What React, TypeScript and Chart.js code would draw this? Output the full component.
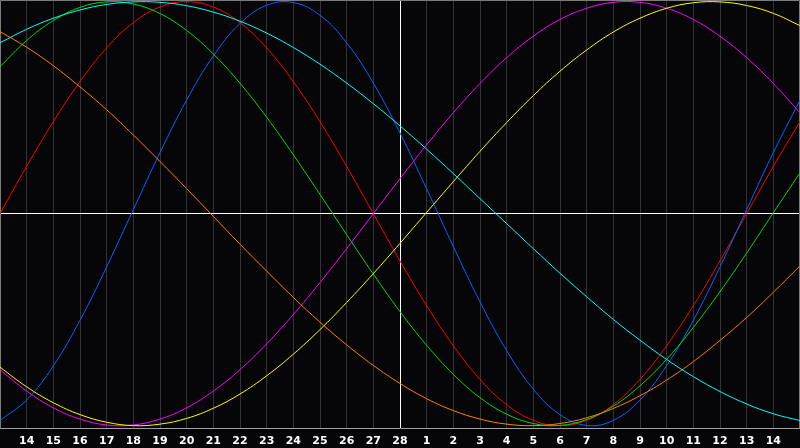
import { useEffect, useRef } from 'react';
import { Chart, registerables } from 'chart.js';

Chart.register(...registerables);

// Day labels from one day before the first tick to one day after the last (edges unlabeled)
const DAY_LABELS = [
  '13', '14', '15', '16', '17', '18', '19', '20', '21', '22', '23', '24', '25', '26', '27', '28',
  '1', '2', '3', '4', '5', '6', '7', '8', '9', '10', '11', '12', '13', '14', '15',
];

const PHYSICAL = [-0.975, -0.879, -0.718, -0.503, -0.251, 0.019, 0.288, 0.536, 0.744, 0.897, 0.983, 0.996, 0.936, 0.806, 0.616, 0.381, 0.117, -0.155, -0.416, -0.646, -0.828, -0.948, -0.999, -0.975, -0.879, -0.717, -0.503, -0.251, 0.019, 0.288, 0.536];
const EMOTIONAL = [0, 0.223, 0.434, 0.623, 0.782, 0.901, 0.975, 1, 0.975, 0.901, 0.782, 0.623, 0.434, 0.223, 0, -0.223, -0.434, -0.623, -0.782, -0.901, -0.975, -1, -0.975, -0.901, -0.782, -0.623, -0.434, -0.223, 0, 0.223, 0.434];
const INTELLECTUAL = [0.693, 0.817, 0.911, 0.973, 0.999, 0.989, 0.944, 0.864, 0.753, 0.615, 0.455, 0.278, 0.091, -0.099, -0.285, -0.462, -0.621, -0.758, -0.868, -0.946, -0.99, -0.999, -0.971, -0.908, -0.812, -0.687, -0.537, -0.368, -0.186, 0.004, 0.193];
const INTUITIVE = [-0.736, -0.837, -0.916, -0.969, -0.997, -0.997, -0.969, -0.916, -0.837, -0.736, -0.614, -0.476, -0.325, -0.165, 0, 0.165, 0.325, 0.476, 0.614, 0.736, 0.837, 0.916, 0.969, 0.997, 0.997, 0.969, 0.916, 0.837, 0.736, 0.614, 0.476];
const AESTHETIC = [-0.724, -0.817, -0.892, -0.948, -0.984, -1.0, -0.993, -0.966, -0.918, -0.851, -0.765, -0.663, -0.547, -0.419, -0.283, -0.14, 0.006, 0.151, 0.294, 0.43, 0.557, 0.672, 0.772, 0.857, 0.922, 0.969, 0.995, 0.999, 0.982, 0.945, 0.887];
const AWARENESS = [0.859, 0.785, 0.698, 0.598, 0.49, 0.371, 0.246, 0.118, -0.013, -0.144, -0.271, -0.395, -0.512, -0.619, -0.716, -0.801, -0.873, -0.929, -0.969, -0.993, -1.0, -0.99, -0.963, -0.919, -0.859, -0.785, -0.698, -0.598, -0.49, -0.371, -0.246];
const SPIRITUAL = [0.806, 0.87, 0.922, 0.961, 0.987, 0.999, 0.997, 0.981, 0.951, 0.908, 0.852, 0.784, 0.705, 0.616, 0.519, 0.414, 0.304, 0.189, 0.071, -0.047, -0.165, -0.281, -0.392, -0.499, -0.597, -0.688, -0.769, -0.839, -0.898, -0.944, -0.976];

const SERIES = [
  { name: 'Spiritual', values: SPIRITUAL, color: '#00ffff' },
  { name: 'Awareness', values: AWARENESS, color: '#ff8000' },
  { name: 'Aesthetic', values: AESTHETIC, color: '#ffff00' },
  { name: 'Intuitive', values: INTUITIVE, color: '#ff00ff' },
  { name: 'Intellectual', values: INTELLECTUAL, color: '#00dd00' },
  { name: 'Physical', values: PHYSICAL, color: '#0a64ff' },
  { name: 'Emotional', values: EMOTIONAL, color: '#ff0000' },
];

export default function App() {
  const ref = useRef<HTMLCanvasElement>(null);

  useEffect(() => {
    document.body.style.margin = '0';
    const frame = {
      id: 'frame',
      beforeDatasetsDraw(chart: any) {
        const { ctx, chartArea: a } = chart;
        ctx.save();
        ctx.strokeStyle = '#7c7c7c';
        ctx.lineWidth = 1;
        ctx.beginPath();
        ctx.moveTo(a.left + 0.5, a.bottom);
        ctx.lineTo(a.left + 0.5, a.top + 0.5);
        ctx.lineTo(a.right - 0.5, a.top + 0.5);
        ctx.lineTo(a.right - 0.5, a.bottom);
        ctx.stroke();
        ctx.restore();
      },
    };
    const chart = new Chart(ref.current as HTMLCanvasElement, {
      type: 'line',
      data: {
        labels: DAY_LABELS,
        datasets: SERIES.map((s) => ({
          label: s.name,
          data: s.values,
          borderColor: s.color,
          backgroundColor: s.color,
          borderWidth: 1,
          pointRadius: 0,
          tension: 0.4,
          fill: false,
        })),
      },
      options: {
        responsive: true,
        maintainAspectRatio: false,
        animation: false,
        devicePixelRatio: 1,
        layout: { padding: 0 },
        plugins: { legend: { display: false }, tooltip: { enabled: false } },
        scales: {
          x: {
            type: 'category',
            offset: false,
            grid: {
              offset: false,
              drawTicks: true,
              tickLength: 6,
              tickColor: 'rgba(0,0,0,0)',
              lineWidth: 1,
              color: (c: any) => (c.index === 15 ? '#ffffff' : '#343438'),
            },
            border: { display: true, color: '#a0a0a0', width: 1 },
            ticks: {
              autoSkip: false,
              maxRotation: 0,
              minRotation: 0,
              padding: 0,
              color: '#ffffff',
              font: { family: 'DejaVu Sans', weight: 'bold', size: 11 },
              callback: (_v: any, i: number) => (i === 0 || i === DAY_LABELS.length - 1 ? '' : DAY_LABELS[i]),
            },
          },
          y: {
            min: -1.015,
            max: 1.008,
            ticks: { display: false },
            border: { display: false },
            grid: { drawTicks: false, color: '#ffffff', lineWidth: 1 },
            afterBuildTicks: (s: any) => {
              s.ticks = [{ value: 0 }];
            },
          },
        },
      },
      plugins: [frame],
    });
    return () => chart.destroy();
  }, []);

  return (
    <div style={{ width: 800, height: 448, background: '#060609', position: 'relative' }}>
      <canvas ref={ref} />
    </div>
  );
}
